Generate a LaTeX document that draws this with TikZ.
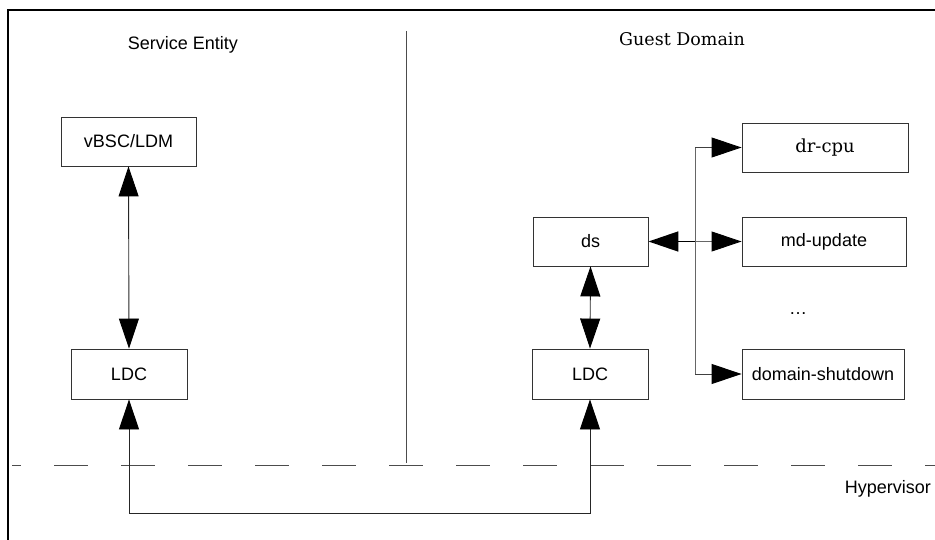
\documentclass[tikz,border=0pt]{standalone}
\usepackage{fontspec}
\setmainfont{Liberation Sans}
\newfontfamily\serifdv{DejaVu Serif}
\usetikzlibrary{arrows.meta}
\tikzset{
  boxnode/.style={draw=black!80, line width=0.9pt, rectangle, inner sep=0pt, font=\fontsize{18}{20}\selectfont},
  conn/.style={line width=0.9pt, draw=black!85},
  tri/.style={-{Triangle[length=30pt,width=20pt,color=black]}},
  tritri/.style={{Triangle[length=30pt,width=20pt,color=black]}-{Triangle[length=30pt,width=20pt,color=black]}},
  lbl/.style={anchor=base, inner sep=0pt, font=\fontsize{18}{20}\selectfont},
}
\begin{document}
\begin{tikzpicture}[x=1pt, y=-1pt]
\useasboundingbox (0,0) rectangle (935,540);
% frame
\draw[line width=1.2pt] (935,10) -- (8,10) -- (8,540);
% divider
\draw[line width=0.9pt, draw=black!70] (406,31) -- (406,463);
% hypervisor dashed line
\draw[line width=0.9pt, draw=black!70, dash pattern=on 34pt off 33pt, dash phase=25pt] (12,465) -- (935,465);
% titles
\node[lbl] (se) at (183,50) {Service Entity};
\node[lbl, font=\serifdv\fontsize{17.5}{20}\selectfont] (gd) at (682,46) {Guest Domain};
\node[lbl, anchor=base east] (hv) at (931,493) {Hypervisor};
\node[lbl] (dots) at (798,315) {…};
% boxes
\node[boxnode, minimum width=135pt, minimum height=49pt] (vbsc) at (128.5,141.5) {vBSC/LDM};
\node[boxnode, minimum width=116pt, minimum height=50pt] (ldcL) at (129,374) {LDC};
\node[boxnode, minimum width=115pt, minimum height=49pt] (ds) at (590.5,241.5) {ds};
\node[boxnode, minimum width=116pt, minimum height=50pt] (ldcR) at (590,374) {LDC};
\node[boxnode, minimum width=166pt, minimum height=49pt, font=\serifdv\fontsize{18}{20}\selectfont] (drcpu) at (825,147.5) {dr-cpu};
\node[boxnode, minimum width=164pt, minimum height=49pt] (mdup) at (824,241.5) {md-update};
\node[boxnode, minimum width=162pt, minimum height=50pt] (dshut) at (823,374) {domain-shutdown};
% bus coordinates
\coordinate (bt) at (695,147.5);
\coordinate (bm) at (695,241.5);
\coordinate (bb) at (695,374);
\coordinate (hb) at (0,513);
% connectors
\draw[conn, tritri] (vbsc.south) -- (ldcL.north);
\draw[conn, tritri] (ds.south) -- (ldcR.north);
\draw[conn, tritri] (ldcL.south) -- (ldcL.south |- hb) -| (ldcR.south);
\draw[conn, draw=black!60] (bt) -- (bb);
\draw[conn, draw=black!75, tri] (bt) -- (drcpu.west);
\draw[conn, draw=black!75, tri] (bb) -- (dshut.west);
\draw[conn, draw=black!60, tri] (bm) -- (mdup.west);
\draw[line width=1.8pt, tri] (bm) -- (ds.east);
\end{tikzpicture}
\end{document}
